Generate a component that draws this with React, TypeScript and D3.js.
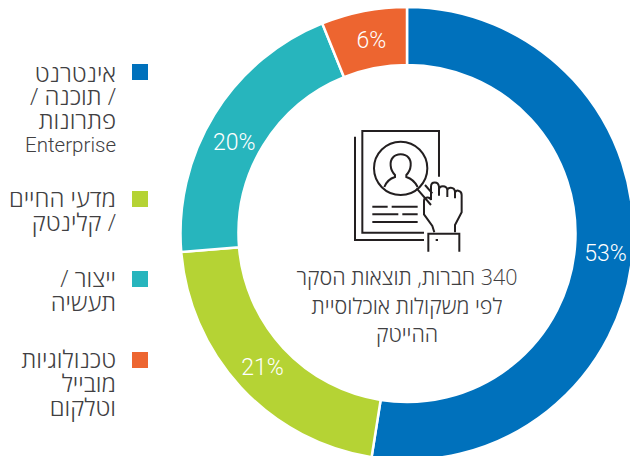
import React from "react";
import * as d3 from "d3";

const categories = ["אינטרנט / תוכנה / פתרונות Enterprise", "מדעי החיים / קלינטק", "ייצור / תעשיה", "טכנולוגיות מובייל וטלקום"];
const shares = [52.5, 21.2, 20.2, 6.1];
const percentLabels = ["53%", "21%", "20%", "6%"];
const colors = ["#0071bc", "#b5d334", "#27b5bd", "#ed6530"];
const legendLines = [
  ["אינטרנט", "/ תוכנה /", "פתרונות", "Enterprise"],
  ["מדעי החיים", "/ קלינטק"],
  ["ייצור /", "תעשיה"],
  ["טכנולוגיות", "מובייל", "וטלקום"],
];
const centerLines = ["340 חברות, תוצאות הסקר", "לפי משקולות אוכלוסיית", "ההייטק"];

const cx = 407, cy = 233.5, R = 226.5, r0 = 168.5;
const legendY = [64, 191, 271, 352];
const legendLineY = [[82, 105, 129, 152], [207, 231], [287, 311], [368, 392, 416]];
const labelNudge = [[2, 4], [0, 0], [-5, 12], [2, 0]];
const hebrew = "'Open Sans', sans-serif";
const latin = "Roboto, sans-serif";

export default function App() {
  const pie = d3.pie<number>().sort(null)(shares);
  const arc = d3.arc<d3.PieArcDatum<number>>().innerRadius(r0).outerRadius(R);
  const labelArc = d3.arc<d3.PieArcDatum<number>>().innerRadius(197).outerRadius(197);
  return (
    <svg width={630} height={456} style={{ position: "absolute", left: 0, top: 0, background: "#fff" }}>
      <g transform={`translate(${cx},${cy})`}>
        {pie.map((d, i) => (
          <path key={i} d={arc(d) as string} fill={colors[i]} stroke="#fff" strokeWidth={2.5}><title>{categories[i]}</title></path>
        ))}
        {pie.map((d, i) => {
          const [x, y] = labelArc.centroid(d);
          return <text key={i} x={x + labelNudge[i][0]} y={y + labelNudge[i][1] + 8} textAnchor="middle" fontFamily={latin} fontSize={23} fill="#fff" fontWeight={300}>{percentLabels[i]}</text>;
        })}
      </g>
      {colors.map((c, i) => <rect key={i} x={132} y={legendY[i]} width={16} height={16} fill={c} />)}
      {legendLines.map((ls, i) => ls.map((t, j) => {
        const isLatin = t === "Enterprise";
        return (
          <text key={`${i}-${j}`} x={116} y={legendLineY[i][j]} textAnchor={isLatin ? "end" : "start"} fontFamily={isLatin ? latin : hebrew} fontSize={isLatin ? 20.5 : 24} fill="#414042" fontWeight={300} style={{ direction: isLatin ? "ltr" : "rtl" }}>{t}</text>
        );
      }))}
      {centerLines.map((t, i) => (
        <text key={i} x={407} y={[285, 314, 342][i]} textAnchor="middle" fontFamily={hebrew} fontSize={21.5} fill="#414042" fontWeight={300} style={{ direction: "rtl" }}>{t}</text>
      ))}
      <g fill="none" stroke="#231f20" strokeWidth={6} transform="translate(345,125) scale(0.3333)">
        <path d="M30,35 V345 H237" />
        <path d="M282,155 V18 H52 V323 H237" />
        <circle cx={167} cy={130} r={80} />
        <path d="M167,88 C147,88 135,102 137,122 C138,135 145,145 150,150 V156 C137,160 124,170 118,186 M167,88 C187,88 199,102 197,122 C196,135 189,145 184,150 V156 C197,160 210,170 218,186" />
        <path d="M215,190 L258,240 M240,180 L262,205" />
        <path d="M82,245 H128 M140,245 H218 M82,268 H160 M172,268 H218 M82,291 H218" />
        <path d="M268,322 L262,303 L237,268 V228 C237,215 255,215 258,225 V185 C258,168 280,168 282,185 V212 M282,195 C282,180 305,180 307,195 V216 M307,197 C307,185 328,185 330,200 V220 M330,205 C330,192 350,195 350,210 V262 L330,300 V322" />
        <path d="M250,380 V326 H343 V380" />
        <path d="M272,345 H279" />
      </g>
    </svg>
  );
}
